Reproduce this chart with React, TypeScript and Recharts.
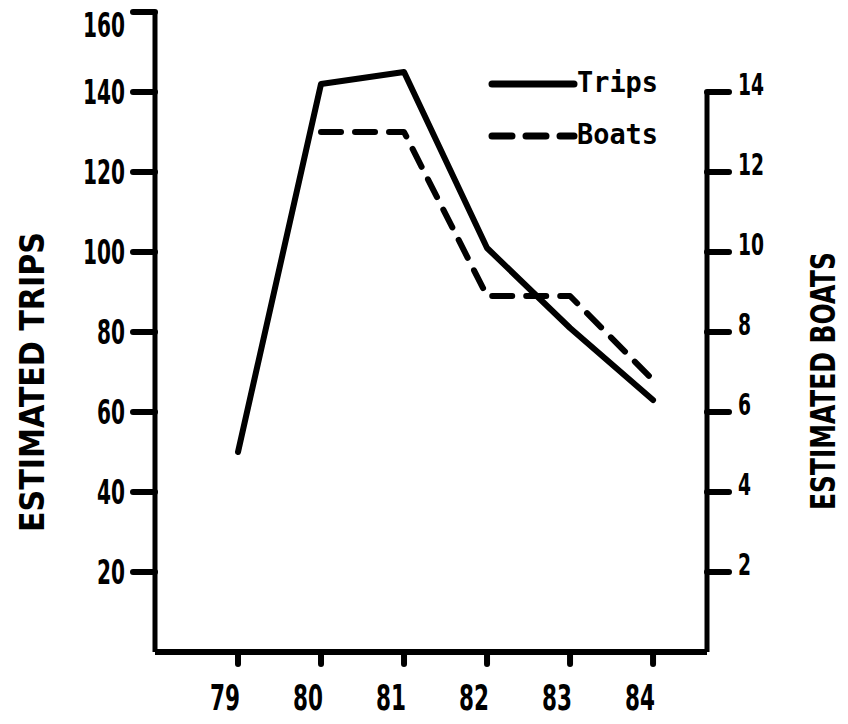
import React from 'react';
import { LineChart, Line, XAxis, YAxis, ReferenceLine, Legend } from 'recharts';

const years = [79, 80, 81, 82, 83, 84];
const trips = [50, 142, 145, 101, 81, 63];
const boats: (number | null)[] = [null, 13, 13, 8.9, 8.9, 6.8];

const tripTicks = [20, 40, 60, 80, 100, 120, 140, 160];
const boatTicks = [2, 4, 6, 8, 10, 12, 14];
const legendOrder = ['Trips', 'Boats'];

const data = years.map((y, i) => ({ year: y, trips: trips[i], boats: boats[i] }));

const X_MIN = 78;
const X_MAX = 84.65;
const BOAT_AXIS_TOP = 14;

const BOLD = "'DejaVu Sans Condensed', 'Liberation Sans', sans-serif";
const MONO = "'DejaVu Sans Mono', 'Liberation Mono', monospace";

const XTick = (p: any) => {
  const s = String(p.payload.value);
  return (
    <text x={p.x - 13} y={p.y} dy="0.72em" textAnchor="middle" fontFamily={BOLD} fontWeight="bold" fontSize={36}
      fill="#000" textLength={s.length * 15} lengthAdjust="spacingAndGlyphs">
      {s}
    </text>
  );
};

const LeftTick = (p: any) => {
  const s = String(p.payload.value);
  const shift = p.payload.value === tripTicks[tripTicks.length - 1] ? 13 : 0;
  return (
    <text x={p.x} y={p.y + shift} dy="0.36em" textAnchor="end" fontFamily={BOLD} fontWeight="bold" fontSize={33}
      fill="#000" textLength={s.length * 14} lengthAdjust="spacingAndGlyphs">
      {s}
    </text>
  );
};

const RightTick = (p: any) => {
  const s = String(p.payload.value);
  return (
    <text x={p.x} y={p.y - 8} dy="0.36em" textAnchor="start" fontFamily={BOLD} fontWeight="bold" fontSize={30}
      fill="#000" textLength={s.length * 13} lengthAdjust="spacingAndGlyphs">
      {s}
    </text>
  );
};

const AxisTitle = (cx: number, cy: number, text: string, len: number) => (
  <text
    transform={`translate(${cx},${cy}) rotate(-90)`}
    x={0}
    y={12}
    textAnchor="middle"
    fontFamily={BOLD}
    fontWeight="bold"
    fontSize={33}
    fill="#000"
    textLength={len}
    lengthAdjust="spacingAndGlyphs"
  >
    {text}
  </text>
);

const renderLegend = (props: any) => {
  const items = [...(props.payload || [])].sort(
    (a: any, b: any) => legendOrder.indexOf(a.value) - legendOrder.indexOf(b.value)
  );
  return (
    <svg width={200} height={100}>
      {items.map((e: any, i: number) => {
        const y = 28 + i * 52;
        const dashed = e.payload && e.payload.strokeDasharray;
        return (
          <g key={i}>
            <line x1={14} x2={96} y1={y} y2={y} stroke="#000" strokeWidth={7} strokeLinecap="round" strokeDasharray={dashed ? '20 14' : undefined} />
            <text x={99} y={y + 8} fontFamily={MONO} fontWeight="bold" fontSize={28} fill="#000" textLength={81} lengthAdjust="spacingAndGlyphs">
              {e.value}
            </text>
          </g>
        );
      })}
    </svg>
  );
};

export default function App() {
  return (
    <div style={{ position: 'absolute', left: 0, top: 0, width: 848, height: 724, background: '#fff' }}>
      <LineChart width={848} height={724} data={data} margin={{ top: 12, right: 0, bottom: 0, left: 0 }}>
        <XAxis
          dataKey="year"
          type="number"
          domain={[X_MIN, X_MAX]}
          ticks={years}
          allowDataOverflow
          height={72}
          tickSize={12}
          tickMargin={20}
          axisLine={{ stroke: '#000', strokeWidth: 6 }}
          tickLine={{ stroke: '#000', strokeWidth: 6, strokeLinecap: 'round' }}
          tick={<XTick />}
        />
        <YAxis
          yAxisId="left"
          domain={[0, 160]}
          ticks={tripTicks}
          width={155}
          tickSize={22}
          tickMargin={8}
          axisLine={{ stroke: '#000', strokeWidth: 5 }}
          tickLine={{ stroke: '#000', strokeWidth: 6, strokeLinecap: 'round' }}
          tick={<LeftTick />}
          label={{ content: () => AxisTitle(32, 382, 'ESTIMATED TRIPS', 300) }}
        />
        <YAxis
          yAxisId="right"
          orientation="right"
          domain={[0, 16]}
          ticks={boatTicks}
          width={141}
          tickSize={22}
          tickMargin={9}
          axisLine={false}
          tickLine={{ stroke: '#000', strokeWidth: 6, strokeLinecap: 'round' }}
          tick={<RightTick />}
          label={{ content: () => AxisTitle(823, 381, 'ESTIMATED BOATS', 258) }}
        />
        <ReferenceLine
          yAxisId="right"
          segment={[{ x: X_MAX, y: 0 }, { x: X_MAX, y: BOAT_AXIS_TOP }]}
          stroke="#000"
          strokeWidth={5}
          ifOverflow="visible"
        />
        <Legend
          layout="horizontal"
          verticalAlign="middle"
          align="center"
          content={renderLegend}
          wrapperStyle={{ position: 'absolute', left: 478, top: 56, width: 200, height: 100 }}
        />
        <Line
          yAxisId="left"
          dataKey="trips"
          name="Trips"
          stroke="#000"
          strokeWidth={6}
          strokeLinecap="round"
          strokeLinejoin="round"
          dot={false}
          isAnimationActive={false}
        />
        <Line
          yAxisId="right"
          dataKey="boats"
          name="Boats"
          stroke="#000"
          strokeWidth={6}
          strokeDasharray="20 14"
          strokeLinecap="round"
          strokeLinejoin="round"
          dot={false}
          isAnimationActive={false}
        />
      </LineChart>
    </div>
  );
}
